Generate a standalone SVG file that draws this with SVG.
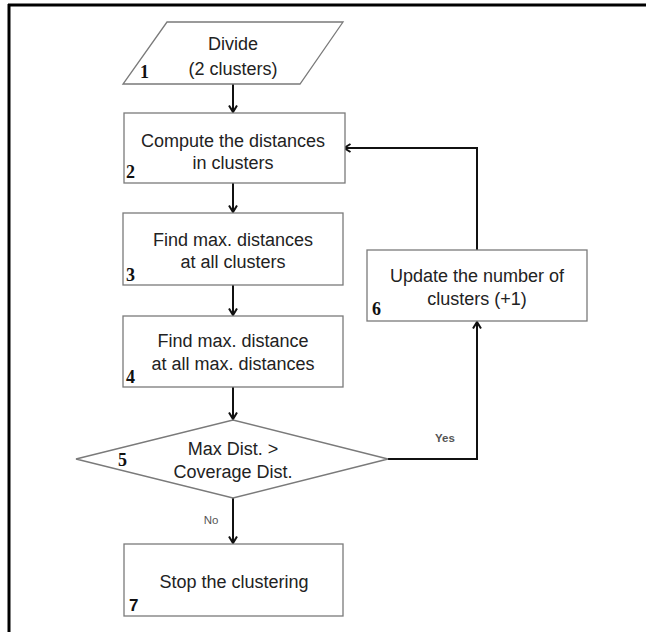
<svg xmlns="http://www.w3.org/2000/svg" width="646" height="632" viewBox="0 0 646 632">
<style>
.shape{fill:#fff;stroke:#7a7a7a;stroke-width:1.3}
.txt{font-family:"Liberation Sans",Arial,sans-serif;font-size:18px;fill:#222;text-anchor:middle}
.num{font-family:"Liberation Serif","Times New Roman",serif;font-size:18px;font-weight:bold;fill:#111}
.lbl{font-family:"Liberation Sans",Arial,sans-serif;font-size:11.5px;fill:#555;text-anchor:middle}
.conn{fill:none;stroke:#111;stroke-width:2}
</style>
<defs>
<marker id="arr" markerUnits="userSpaceOnUse" viewBox="0 0 10 10" markerWidth="10" markerHeight="10" refX="8.5" refY="5" orient="auto">
<path d="M2,1 L8.5,5 L2,9" fill="none" stroke="#111" stroke-width="2"/>
</marker>
</defs>
<rect width="646" height="632" fill="#fff"/>
<g id="frame">
<line x1="8" y1="5" x2="646" y2="5" stroke="#000" stroke-width="3"/>
<line x1="9" y1="4" x2="9" y2="632" stroke="#000" stroke-width="3"/>
</g>
<g id="connectors">
<path class="conn" d="M233,84 V112" marker-end="url(#arr)"/>
<path class="conn" d="M233,183 V212" marker-end="url(#arr)"/>
<path class="conn" d="M233,285 V315" marker-end="url(#arr)"/>
<path class="conn" d="M233,387 V419" marker-end="url(#arr)"/>
<path class="conn" d="M233,498 V543" marker-end="url(#arr)"/>
<path class="conn" d="M388,459 H477 V322" marker-end="url(#arr)"/>
<path class="conn" d="M477,250 V148 H344" marker-end="url(#arr)"/>
<text class="lbl" x="211" y="524">No</text>
<text class="lbl" x="445" y="442" font-weight="bold">Yes</text>
</g>
<g id="n1">
<polygon class="shape" points="167,22 343,22 300,84 123,84"/>
<text class="txt" x="233" y="50">Divide</text>
<text class="txt" x="233" y="75">(2 clusters)</text>
<text class="num" x="140" y="78">1</text>
</g>
<g id="n2">
<rect class="shape" x="124" y="113" width="221" height="70"/>
<text class="txt" x="233" y="147">Compute the distances</text>
<text class="txt" x="233" y="169">in clusters</text>
<text class="num" x="126" y="178">2</text>
</g>
<g id="n3">
<rect class="shape" x="123" y="213" width="220" height="72"/>
<text class="txt" x="233" y="246">Find max. distances</text>
<text class="txt" x="233" y="268">at all clusters</text>
<text class="num" x="126" y="281">3</text>
</g>
<g id="n4">
<rect class="shape" x="123" y="316" width="220" height="71"/>
<text class="txt" x="233" y="347">Find max. distance</text>
<text class="txt" x="233" y="370">at all max. distances</text>
<text class="num" x="126" y="383">4</text>
</g>
<g id="n5">
<polygon class="shape" points="76,459 233,420 388,459 233,498"/>
<text class="txt" x="233" y="455">Max Dist. &gt;</text>
<text class="txt" x="233" y="478">Coverage Dist.</text>
<text class="num" x="118" y="466">5</text>
</g>
<g id="n6">
<rect class="shape" x="367" y="250" width="220" height="71"/>
<text class="txt" x="477" y="282">Update the number of</text>
<text class="txt" x="477" y="305">clusters (+1)</text>
<text class="num" x="372" y="315">6</text>
</g>
<g id="n7">
<rect class="shape" x="124" y="544" width="219" height="72"/>
<text class="txt" x="234" y="588">Stop the clustering</text>
<text class="num" x="129" y="611" style="font-family:'Liberation Sans',Arial,sans-serif;font-size:17px">7</text>
</g>
</svg>
